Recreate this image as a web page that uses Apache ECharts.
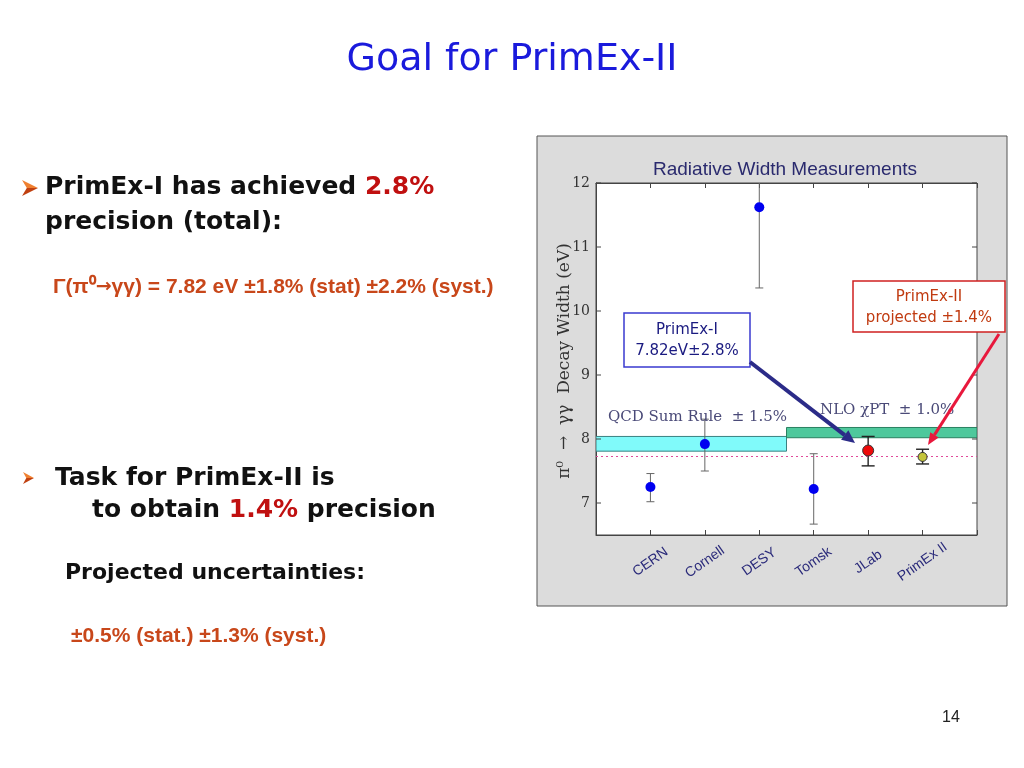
<!DOCTYPE html>
<html><head><meta charset="utf-8">
<script src="https://cdn.jsdelivr.net/npm/echarts@6/dist/echarts.min.js"></script>
<style>html,body{margin:0;padding:0;background:#fff}#c{width:1024px;height:768px}</style>
</head><body><div id="c"></div>
<script>
// ---- data ----
const categories = ['CERN', 'Cornell', 'DESY', 'Tomsk', 'JLab', 'PrimEx II'];
const catPos = [1, 2, 3, 4, 5, 6];
const values = [7.25, 7.92, 11.62, 7.22, 7.82, 7.72];
const errLow = [7.02, 7.50, 10.36, 6.67, 7.58, 7.61];
const errHigh = [7.46, 8.31, 12.9, 7.77, 8.04, 7.84];
const yTicks = [7, 8, 9, 10, 11, 12];
const qcdBand = [0, 3.5, 7.81, 8.04];
const nloBand = [3.5, 7, 8.02, 8.18];
const refLine = 7.73;

const chart = echarts.init(document.getElementById('c'));

function arrow(x1, y1, x2, y2, color, lw, hl, hw) {
  const dx = x2 - x1, dy = y2 - y1, L = Math.hypot(dx, dy);
  const ux = dx / L, uy = dy / L, px = -uy, py = ux;
  const bx = x2 - ux * hl, by = y2 - uy * hl;
  return [
    { type: 'line', z: 100, shape: { x1: x1, y1: y1, x2: bx, y2: by }, style: { stroke: color, lineWidth: lw } },
    { type: 'polygon', z: 100, shape: { points: [[x2, y2], [bx + px * hw, by + py * hw], [bx - px * hw, by - py * hw]] }, style: { fill: color } }
  ];
}
function bullet(x, y, w, h) {
  return [
    { type: 'polygon', z: 10, shape: { points: [[x, y - h / 2], [x + w, y], [x + w * 0.3, y]] }, style: { fill: '#f08030' } },
    { type: 'polygon', z: 10, shape: { points: [[x + w * 0.3, y], [x + w, y], [x, y + h / 2]] }, style: { fill: '#c04010' } }
  ];
}

const bold = 'bold 25px "DejaVu Sans"';
const orange = '#c8471a';

const graphics = [
  { type: 'rect', z: -10, shape: { x: 537, y: 136, width: 470, height: 470 }, style: { fill: '#dcdcdc', stroke: '#555', lineWidth: 1 } },
  { type: 'text', z: 10, style: { x: 512, y: 60, text: 'Goal for PrimEx-II', font: '38px "DejaVu Sans"', fill: '#1a1adc', textAlign: 'center', textVerticalAlign: 'middle' } },
  { type: 'text', z: 10, style: { x: 45, y: 187, text: '{a|PrimEx-I has achieved }{r|2.8%}', textVerticalAlign: 'middle',
      rich: { a: { font: bold, fill: '#111' }, r: { font: bold, fill: '#c01010' } } } },
  { type: 'text', z: 10, style: { x: 45, y: 222, text: 'precision (total):', font: bold, fill: '#111', textVerticalAlign: 'middle' } },
  { type: 'text', z: 10, style: { x: 53, y: 287, text: '{a|Γ(π⁰}{b|→}{a|γγ) = 7.82 eV ±1.8% (stat) ±2.2% (syst.)}', textVerticalAlign: 'middle',
      rich: { a: { font: 'bold 21px "Liberation Sans"', fill: orange }, b: { font: 'bold 19px "DejaVu Sans"', fill: orange } } } },
  { type: 'text', z: 10, style: { x: 55, y: 478, text: 'Task for PrimEx-II is', font: bold, fill: '#111', textVerticalAlign: 'middle' } },
  { type: 'text', z: 10, style: { x: 92, y: 510, text: '{a|to obtain }{r|1.4%}{a| precision}', textVerticalAlign: 'middle',
      rich: { a: { font: bold, fill: '#111' }, r: { font: bold, fill: '#c01010' } } } },
  { type: 'text', z: 10, style: { x: 65, y: 573, text: 'Projected uncertainties:', font: 'bold 22px "DejaVu Sans"', fill: '#111', textVerticalAlign: 'middle' } },
  { type: 'text', z: 10, style: { x: 71, y: 636, text: '±0.5% (stat.) ±1.3% (syst.)', font: 'bold 21px "Liberation Sans"', fill: orange, textVerticalAlign: 'middle' } },
  { type: 'text', z: 10, style: { x: 951, y: 718, text: '14', font: '16px "Liberation Sans"', fill: '#222', textAlign: 'center', textVerticalAlign: 'middle' } },
  // chart decorations
  { type: 'text', z: 10, style: { x: 785, y: 170, text: 'Radiative Width Measurements', font: '19px "Liberation Sans"', fill: '#2a2a6e', textAlign: 'center', textVerticalAlign: 'middle' } },
  { type: 'text', z: 10, x: 565, y: 361, rotation: Math.PI / 2, style: { x: 0, y: 0, text: 'π⁰  →  γγ  Decay Width (eV)', font: '17px "DejaVu Serif"', fill: '#333', textAlign: 'center', textVerticalAlign: 'middle' } },
  { type: 'text', z: 60, style: { x: 608, y: 417, text: 'QCD Sum Rule  ± 1.5%', font: '15px "DejaVu Serif"', fill: '#4a4a78', textVerticalAlign: 'middle' } },
  { type: 'text', z: 60, style: { x: 820, y: 410, text: 'NLO χPT  ± 1.0%', font: '15px "DejaVu Serif"', fill: '#4a4a78', textVerticalAlign: 'middle' } },
  // annotation boxes
  { type: 'rect', z: 100, shape: { x: 624, y: 313, width: 126, height: 54 }, style: { fill: '#fff', stroke: '#3a3ad0', lineWidth: 1.5 } },
  { type: 'text', z: 101, style: { x: 687, y: 330, text: 'PrimEx-I', font: '15px "DejaVu Sans"', fill: '#1a1a80', textAlign: 'center', textVerticalAlign: 'middle' } },
  { type: 'text', z: 101, style: { x: 687, y: 351, text: '7.82eV±2.8%', font: '15px "DejaVu Sans"', fill: '#1a1a80', textAlign: 'center', textVerticalAlign: 'middle' } },
  { type: 'rect', z: 100, shape: { x: 853, y: 281, width: 152, height: 51 }, style: { fill: '#fff', stroke: '#d02020', lineWidth: 1.5 } },
  { type: 'text', z: 101, style: { x: 929, y: 297, text: 'PrimEx-II', font: '15px "DejaVu Sans"', fill: '#c03a10', textAlign: 'center', textVerticalAlign: 'middle' } },
  { type: 'text', z: 101, style: { x: 929, y: 318, text: 'projected ±1.4%', font: '15px "DejaVu Sans"', fill: '#c03a10', textAlign: 'center', textVerticalAlign: 'middle' } }
].concat(bullet(22, 188, 16, 16))
 .concat(bullet(23, 478, 11, 12))
 .concat(arrow(750, 362, 855, 443, '#2b2b88', 4, 13, 6))
 .concat(arrow(999, 334, 928, 445, '#e8183c', 3, 12, 5));

const errData = catPos.map((x, i) => [x, errLow[i], errHigh[i], i]);
const pointColors = ['#0000f0', '#0000f0', '#0000f0', '#0000f0', '#ee0a0a', '#c4c43a'];
const pointData = catPos.map((x, i) => ({
  value: [x, values[i]],
  symbolSize: i === 4 ? 11 : (i === 5 ? 9 : 10),
  itemStyle: { opacity: 1, color: pointColors[i], borderColor: i >= 4 ? '#333' : pointColors[i], borderWidth: i >= 4 ? 1 : 0 }
}));

chart.setOption({
  animation: false,
  backgroundColor: '#fff',
  graphic: { elements: graphics },
  grid: { left: 596, top: 183, width: 381, height: 352, show: true, backgroundColor: '#fff', borderColor: '#444', borderWidth: 1 },
  xAxis: [
    { type: 'value', min: 0, max: 7, interval: 1, position: 'bottom',
      axisLine: { show: true, lineStyle: { color: '#444' } },
      axisTick: { show: true, inside: true, length: 5, lineStyle: { color: '#444' } },
      splitLine: { show: false },
      axisLabel: { rotate: 35, margin: 27, align: 'center', verticalAlign: 'middle', color: '#2a2a7a', fontSize: 14, fontFamily: 'Liberation Sans',
        formatter: v => { const k = catPos.indexOf(v); return k >= 0 ? categories[k] : ''; } } },
    { type: 'value', min: 0, max: 7, interval: 1, position: 'top',
      axisLine: { show: true, lineStyle: { color: '#444' } },
      axisTick: { show: true, inside: true, length: 5, lineStyle: { color: '#444' } },
      splitLine: { show: false }, axisLabel: { show: false } }
  ],
  yAxis: [
    { type: 'value', min: 6.5, max: 12, interval: 0.5,
      axisLine: { show: true, lineStyle: { color: '#444' } },
      axisTick: { show: false }, splitLine: { show: false },
      axisLabel: { color: '#333', fontSize: 14, fontFamily: 'DejaVu Serif', margin: 6,
        formatter: v => yTicks.indexOf(v) >= 0 ? String(v) : '' } }
  ],
  series: [
    { type: 'custom', z: 1, clip: true, data: [qcdBand, nloBand],
      renderItem: (params, api) => {
        const a = api.coord([api.value(0), api.value(3)]);
        const b = api.coord([api.value(1), api.value(2)]);
        const qcd = params.dataIndex === 0;
        return { type: 'rect', shape: { x: a[0], y: a[1], width: b[0] - a[0], height: b[1] - a[1] },
          style: { fill: qcd ? '#80fafa' : '#4ec89c', stroke: qcd ? '#3a8080' : '#2a8060', lineWidth: 1 } };
      },
      markLine: { silent: true, symbol: 'none', label: { show: false },
        lineStyle: { color: '#e04a9a', type: [2, 3], width: 1.2 },
        data: [{ yAxis: refLine }] } },
    { type: 'custom', z: 3, data: yTicks,
      renderItem: (params, api) => {
        const y = api.coord([0, api.value(0)])[1];
        const l = api.coord([0, 7])[0], r = api.coord([7, 7])[0];
        return { type: 'group', children: [
          { type: 'line', shape: { x1: l, y1: y, x2: l + 5, y2: y }, style: { stroke: '#444', lineWidth: 1 } },
          { type: 'line', shape: { x1: r - 5, y1: y, x2: r, y2: y }, style: { stroke: '#444', lineWidth: 1 } }
        ] };
      } },
    { type: 'custom', z: 4, clip: true, data: errData,
      renderItem: (params, api) => {
        const x = api.value(0), i = api.value(3);
        const p1 = api.coord([x, api.value(2)]), p2 = api.coord([x, api.value(1)]);
        const hw = i >= 4 ? 6.5 : 4;
        const st = { stroke: i >= 4 ? '#222' : '#666', lineWidth: i >= 4 ? 1.4 : 1 };
        return { type: 'group', children: [
          { type: 'line', shape: { x1: p1[0], y1: p1[1], x2: p2[0], y2: p2[1] }, style: st },
          { type: 'line', shape: { x1: p1[0] - hw, y1: p1[1], x2: p1[0] + hw, y2: p1[1] }, style: st },
          { type: 'line', shape: { x1: p2[0] - hw, y1: p2[1], x2: p2[0] + hw, y2: p2[1] }, style: st }
        ] };
      } },
    { type: 'scatter', z: 5, symbol: 'circle', data: pointData }
  ]
});
</script></body></html>
